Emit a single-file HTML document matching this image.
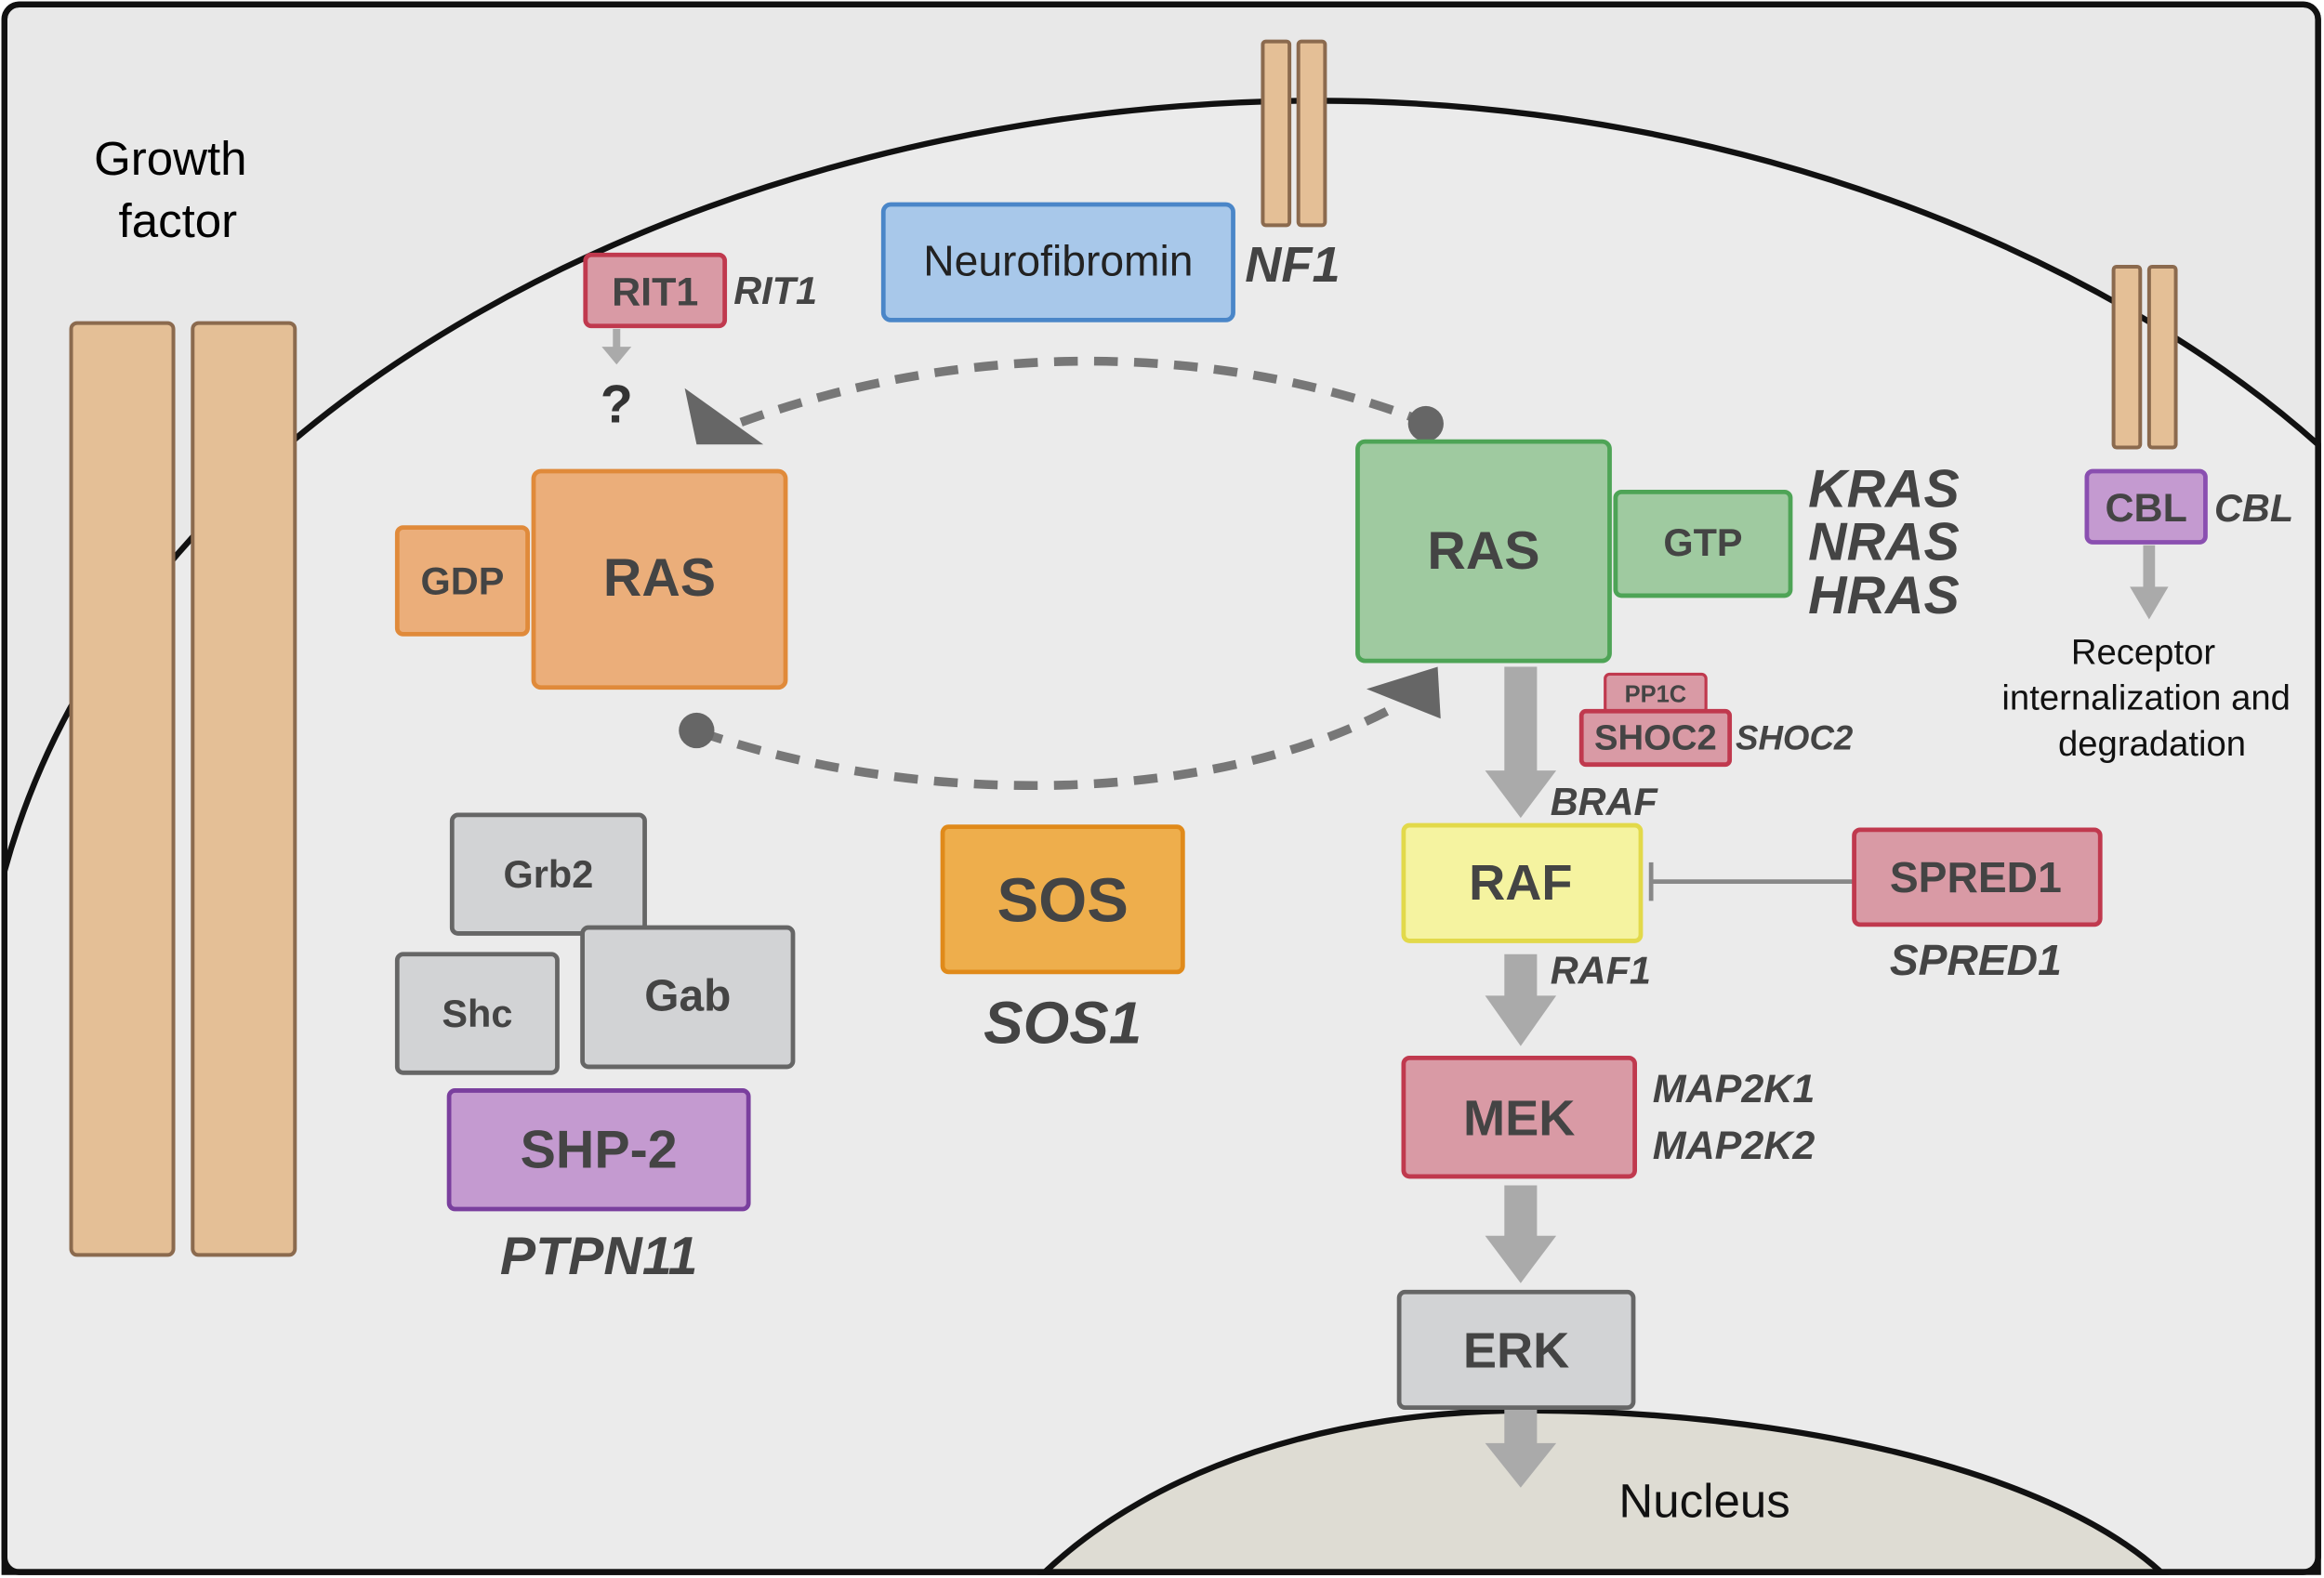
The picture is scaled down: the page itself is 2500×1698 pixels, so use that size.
<!DOCTYPE html>
<html><head><meta charset="utf-8"><style>
html,body{margin:0;padding:0;background:#fff}
svg{display:block}
text{font-family:"Liberation Sans",sans-serif}
.b{font-weight:bold;fill:#444}
.i{font-weight:bold;font-style:italic;fill:#444}
</style></head><body>
<svg width="2500" height="1698" viewBox="0 0 1568 1065" preserveAspectRatio="none">
<rect x="3" y="3" width="1561" height="1058" rx="10" fill="#e8e8e8" stroke="#111" stroke-width="4"/>
<path d="M3,588 C90,270 480,72 880,68 C1180,66 1430,180 1564,300 L1564,1061 L3,1061 Z" fill="#ebebeb" stroke="#111" stroke-width="4"/>
<path d="M705,1061 C780,990 900,952 1030,952 C1200,952 1380,990 1458,1061 Z" fill="#dedcd3" stroke="#111" stroke-width="4"/>
<rect x="3" y="3" width="1561" height="1058" rx="10" fill="none" stroke="#111" stroke-width="4"/>
<g fill="#e4bf96" stroke="#8b6a4e" stroke-width="2.5">
<rect x="48" y="218" width="69" height="629" rx="4"/><rect x="130" y="218" width="69" height="629" rx="4"/>
<rect x="852" y="28" width="18" height="124" rx="2"/><rect x="876" y="28" width="18" height="124" rx="2"/>
<rect x="1426" y="180" width="18" height="122" rx="2"/><rect x="1450" y="180" width="18" height="122" rx="2"/>
</g>
<text x="115" y="118" font-size="32" text-anchor="middle">Growth</text>
<text x="120" y="160" font-size="32" text-anchor="middle">factor</text>
<rect x="596" y="138" width="236" height="78" rx="5" fill="#a8c8ea" stroke="#4a86c8" stroke-width="3"/>
<text x="714" y="186" font-size="29" text-anchor="middle" fill="#222">Neurofibromin</text>
<text x="840" y="190" font-size="34" class="i" fill="#333">NF1</text>
<rect x="395" y="172" width="94" height="48" rx="4" fill="#d99aa5" stroke="#c0394e" stroke-width="3"/>
<text x="442" y="206" font-size="27" text-anchor="middle" class="b">RIT1</text>
<text x="495" y="205" font-size="26" class="i">RIT1</text>
<line x1="416" y1="222" x2="416" y2="236" stroke="#aaa" stroke-width="5"/>
<path d="M406,234 L426,234 L416,246 Z" fill="#aaa"/>
<text x="416" y="285" font-size="36" text-anchor="middle" font-weight="bold" fill="#333">?</text>
<path d="M500,285 C650,230 820,230 962,285" fill="none" stroke="#777" stroke-width="6" stroke-dasharray="16,11"/>
<path d="M462,262 L515,300 L470,300 Z" fill="#666"/>
<circle cx="962" cy="286" r="12" fill="#666"/>
<path d="M472,494 C620,545 820,545 945,475" fill="none" stroke="#777" stroke-width="6" stroke-dasharray="16,11"/>
<circle cx="470" cy="493" r="12" fill="#666"/>
<path d="M970,450 L972,485 L922,465 Z" fill="#666"/>
<rect x="268" y="356" width="88" height="72" rx="4" fill="#ebae7a" stroke="#e08a3a" stroke-width="3"/>
<text x="312" y="401" font-size="26" text-anchor="middle" class="b">GDP</text>
<rect x="360" y="318" width="170" height="146" rx="5" fill="#ebae7a" stroke="#e08a3a" stroke-width="3"/>
<text x="445" y="402" font-size="36" text-anchor="middle" class="b">RAS</text>
<rect x="1090" y="332" width="118" height="70" rx="4" fill="#9fcaa0" stroke="#4ea456" stroke-width="3"/>
<text x="1149" y="375" font-size="26" text-anchor="middle" class="b">GTP</text>
<rect x="916" y="298" width="170" height="148" rx="5" fill="#9fcaa0" stroke="#4ea456" stroke-width="3"/>
<text x="1001" y="384" font-size="36" text-anchor="middle" class="b">RAS</text>
<text x="1220" y="342" font-size="36" class="i">KRAS</text>
<text x="1220" y="378" font-size="36" class="i">NRAS</text>
<text x="1220" y="414" font-size="36" class="i">HRAS</text>
<rect x="1408" y="318" width="80" height="48" rx="4" fill="#c49ad0" stroke="#8a4fb0" stroke-width="3"/>
<text x="1448" y="352" font-size="27" text-anchor="middle" class="b">CBL</text>
<text x="1494" y="352" font-size="26" class="i">CBL</text>
<line x1="1450" y1="368" x2="1450" y2="398" stroke="#aaa" stroke-width="8"/>
<path d="M1437,396 L1463,396 L1450,418 Z" fill="#aaa"/>
<text x="1446" y="448" font-size="24" text-anchor="middle" fill="#111">Receptor</text>
<text x="1448" y="479" font-size="24" text-anchor="middle" fill="#111">internalization and</text>
<text x="1452" y="510" font-size="24" text-anchor="middle" fill="#111">degradation</text>
<g fill="#aaa">
<rect x="1015" y="450" width="22" height="72"/><path d="M1002,520 L1050,520 L1026,552 Z"/>
<rect x="1015" y="644" width="22" height="30"/><path d="M1002,672 L1050,672 L1026,706 Z"/>
<rect x="1015" y="800" width="22" height="36"/><path d="M1002,834 L1050,834 L1026,866 Z"/>
<rect x="1015" y="950" width="22" height="26"/><path d="M1002,974 L1050,974 L1026,1004 Z"/>
</g>
<rect x="1083" y="455" width="68" height="26" rx="3" fill="#d99aa5" stroke="#c0394e" stroke-width="2"/>
<text x="1117" y="474" font-size="16" text-anchor="middle" class="b">PP1C</text>
<rect x="1067" y="480" width="100" height="36" rx="3" fill="#d99aa5" stroke="#c0394e" stroke-width="3"/>
<text x="1117" y="506" font-size="24" text-anchor="middle" class="b">SHOC2</text>
<text x="1171" y="506" font-size="23" class="i">SHOC2</text>
<text x="1046" y="550" font-size="26" class="i">BRAF</text>
<rect x="947" y="557" width="160" height="78" rx="4" fill="#f5f3a0" stroke="#e2d94a" stroke-width="3"/>
<text x="1026" y="607" font-size="34" text-anchor="middle" class="b">RAF</text>
<line x1="1114" y1="595" x2="1250" y2="595" stroke="#888" stroke-width="3"/>
<line x1="1114" y1="582" x2="1114" y2="608" stroke="#888" stroke-width="3"/>
<rect x="1251" y="560" width="166" height="64" rx="4" fill="#d99aa5" stroke="#c0394e" stroke-width="3"/>
<text x="1333" y="602" font-size="29" text-anchor="middle" class="b">SPRED1</text>
<text x="1333" y="658" font-size="29" text-anchor="middle" class="i">SPRED1</text>
<text x="1046" y="664" font-size="26" class="i">RAF1</text>
<rect x="947" y="714" width="156" height="80" rx="4" fill="#d99aa5" stroke="#c0394e" stroke-width="3"/>
<text x="1025" y="766" font-size="34" text-anchor="middle" class="b">MEK</text>
<text x="1115" y="744" font-size="27" class="i">MAP2K1</text>
<text x="1115" y="782" font-size="27" class="i">MAP2K2</text>
<rect x="944" y="872" width="158" height="78" rx="4" fill="#d2d3d5" stroke="#666" stroke-width="3"/>
<text x="1023" y="923" font-size="34" text-anchor="middle" class="b">ERK</text>
<text x="1150" y="1024" font-size="32" text-anchor="middle" fill="#111">Nucleus</text>
<rect x="636" y="558" width="162" height="98" rx="4" fill="#eeae4c" stroke="#e08a1a" stroke-width="3"/>
<text x="717" y="622" font-size="42" text-anchor="middle" class="b">SOS</text>
<text x="717" y="704" font-size="40" text-anchor="middle" class="i">SOS1</text>
<g fill="#d2d3d5" stroke="#666" stroke-width="3">
<rect x="305" y="550" width="130" height="80" rx="4"/>
<rect x="268" y="644" width="108" height="80" rx="4"/>
<rect x="393" y="626" width="142" height="94" rx="4"/>
</g>
<text x="370" y="599" font-size="26" text-anchor="middle" class="b">Grb2</text>
<text x="322" y="693" font-size="26" text-anchor="middle" class="b">Shc</text>
<text x="464" y="682" font-size="30" text-anchor="middle" class="b">Gab</text>
<rect x="303" y="736" width="202" height="80" rx="4" fill="#c49ad0" stroke="#7a3f9e" stroke-width="3"/>
<text x="404" y="788" font-size="36" text-anchor="middle" class="b">SHP-2</text>
<text x="404" y="860" font-size="36" text-anchor="middle" class="i">PTPN11</text>
</svg>
</body></html>
